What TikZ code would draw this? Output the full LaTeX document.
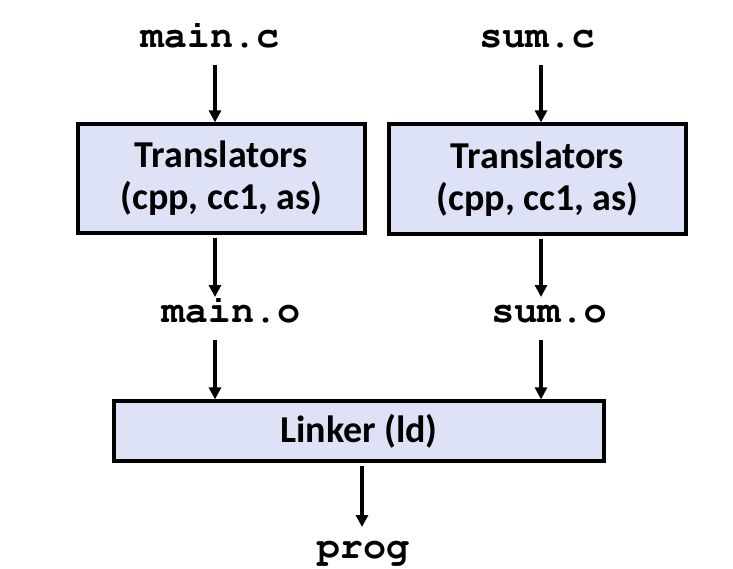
\documentclass[tikz,border=0pt]{standalone}
\usepackage[T1]{fontenc}
\usepackage{fontspec}
\setmainfont{Carlito}
% Courier (pcr) in bold for the file names
\newcommand\codefont{\fontencoding{T1}\fontfamily{pcr}\fontseries{b}\selectfont}
\usetikzlibrary{arrows.meta}
\definecolor{boxfill}{RGB}{221,226,246}
\begin{document}
\begin{tikzpicture}[x=1pt,y=-1pt,
  file/.style={font=\codefont\fontsize{38.5}{40}\selectfont, inner sep=0pt, anchor=base},
  tool/.style={draw=black, line width=3.2pt, fill=boxfill, align=center,
    font=\bfseries\fontsize{38}{42}\selectfont, inner sep=0pt},
  arr/.style={line width=3.4pt, -{Triangle[width=12pt,length=12pt]}}]
  \useasboundingbox (0,0) rectangle (733,569);
  % column positions of the vertical arrows
  \coordinate (colA) at (215,0);
  \coordinate (colB) at (541,0);
  \coordinate (colC) at (362,0);
  % source, object and output files
  \node[file] (mainc) at (210,48) {main.c};
  \node[file] (sumc)  at (537,48) {sum.c};
  \node[file] (maino) at (231,322) {main.o};
  \node[file] (sumo)  at (549,322) {sum.o};
  \node[file] (prog)  at (363,558) {prog};
  % translator and linker boxes
  \node[tool, minimum width=287pt, minimum height=109pt] (t1) at (221.5,178.5) {Translators\\(cpp, cc1, as)};
  \node[tool, minimum width=297pt, minimum height=110pt] (t2) at (537.5,179) {Translators\\(cpp, cc1, as)};
  \node[tool, minimum width=490pt, minimum height=60pt] (ld) at (359,431) {Linker (ld)};
  % arrows
  \draw[arr] ([yshift=-17pt]mainc.base -| colA) -- (t1.north -| colA);
  \draw[arr] ([yshift=-17pt]sumc.base -| colB) -- (t2.north -| colB);
  \draw[arr, shorten <=3pt] (t1.south -| colA) -- ([yshift=25pt]maino.base -| colA);
  \draw[arr, shorten <=3pt] (t2.south -| colB) -- ([yshift=25pt]sumo.base -| colB);
  \draw[arr] ([yshift=-18pt]maino.base -| colA) -- (ld.north -| colA);
  \draw[arr] ([yshift=-18pt]sumo.base -| colB) -- (ld.north -| colB);
  \draw[arr, shorten <=3pt] (ld.south -| colC) -- ([yshift=31pt]prog.base -| colC);
\end{tikzpicture}
\end{document}
